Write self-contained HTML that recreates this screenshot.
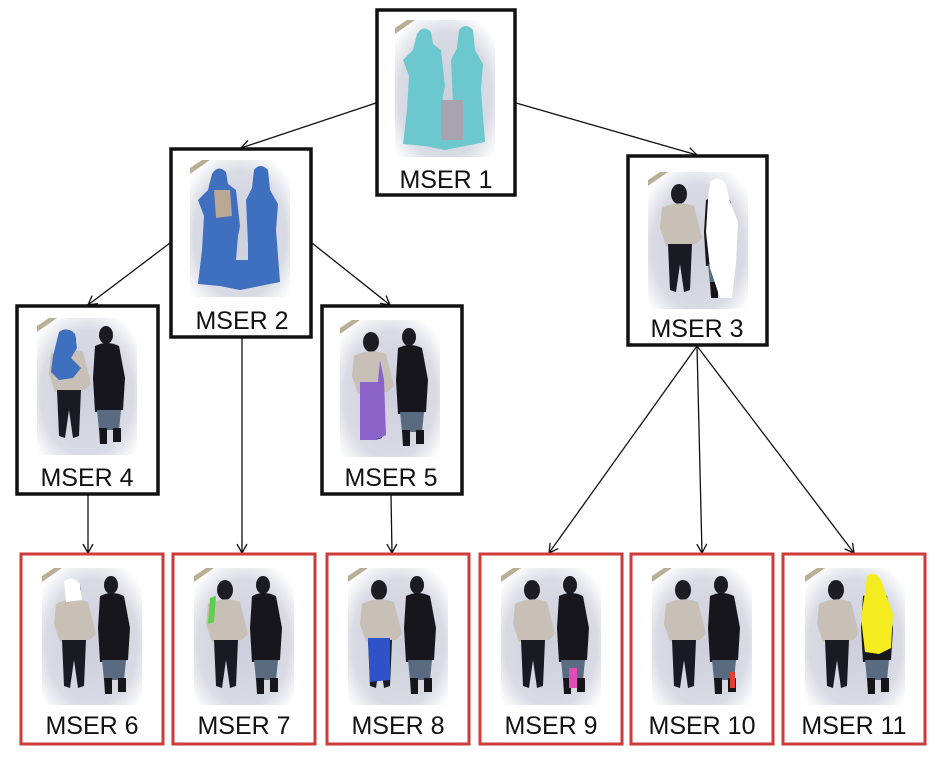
<!DOCTYPE html>
<html><head><meta charset="utf-8"><style>
html,body{margin:0;padding:0;background:#fff;}
svg{display:block;}
text{font-family:"Liberation Sans",sans-serif;font-size:25px;fill:#111;text-anchor:middle;}
</style></head><body>
<svg width="942" height="758" viewBox="0 0 942 758" xmlns="http://www.w3.org/2000/svg">
<defs>
<radialGradient id="bgG" cx="50%" cy="55%" r="65%">
<stop offset="0" stop-color="#cdd0dc"/><stop offset="0.7" stop-color="#d8dae4"/><stop offset="1" stop-color="#ffffff"/>
</radialGradient>
<marker id="ar" markerWidth="12" markerHeight="12" refX="10" refY="6" orient="auto" markerUnits="userSpaceOnUse">
<path d="M1,1 L10,6 L1,11" fill="none" stroke="#111" stroke-width="1.3"/>
</marker>
<g id="bg">
<rect x="0" y="0" width="100" height="137" fill="url(#bgG)"/>
<path d="M0,8 L12,0 L20,0 L0,14Z" fill="#8a7a50" opacity="0.6"/>
</g>
<g id="people">
<ellipse cx="31" cy="22" rx="8" ry="10" fill="#1c1c22"/>
<path d="M14,36 Q30,28 46,34 L54,66 L48,72 L18,74 L12,56Z" fill="#c8c0b6"/>
<path d="M20,72 L44,72 L42,118 L36,120 L32,92 L28,120 L22,118Z" fill="#1a1a22"/>
<ellipse cx="69" cy="17" rx="7" ry="9" fill="#1a1a20"/>
<path d="M58,28 Q70,22 82,28 L88,60 L86,92 L58,94 L56,60Z" fill="#16161c"/>
<path d="M60,92 L84,92 L82,112 L62,112Z" fill="#5a6a80"/>
<path d="M62,110 L70,110 L70,126 L63,126Z M76,110 L84,110 L84,124 L76,124Z" fill="#15151a"/>
</g>
<g id="sil">
<path d="M22,14 Q28,4 36,12 L38,24 L46,30 L50,66 L48,76 L46,100 L58,100 L58,84 L56,40 L62,28 L64,10 Q70,2 78,10 L80,30 L88,44 L86,70 L90,122 L70,126 L50,130 L30,126 L8,124 L12,90 L14,56 L8,40 L18,30Z"/>
</g>
</defs>

<g stroke="#111" stroke-width="1.3" fill="none">
<line x1="376" y1="103" x2="241" y2="148" marker-end="url(#ar)"/>
<line x1="516" y1="103" x2="697" y2="155" marker-end="url(#ar)"/>
<line x1="170" y1="243" x2="88" y2="305" marker-end="url(#ar)"/>
<line x1="312" y1="243" x2="390" y2="305" marker-end="url(#ar)"/>
<line x1="242" y1="338" x2="242" y2="553" marker-end="url(#ar)"/>
<line x1="88" y1="495" x2="88" y2="553" marker-end="url(#ar)"/>
<line x1="391" y1="495" x2="392" y2="553" marker-end="url(#ar)"/>
<line x1="697" y1="346" x2="549" y2="553" marker-end="url(#ar)"/>
<line x1="697" y1="346" x2="702" y2="553" marker-end="url(#ar)"/>
<line x1="697" y1="346" x2="854" y2="553" marker-end="url(#ar)"/>
</g>

<rect x="377" y="10" width="138" height="185" fill="#fff" stroke="#111" stroke-width="3.5"/>
<g transform="translate(395,20)"><use href="#bg"/><use href="#sil" fill="#6cc8cc"/><rect x="46" y="80" width="22" height="40" fill="#a8a4b0"/></g>
<text x="446" y="188">MSER 1</text>

<rect x="171" y="149" width="140" height="188" fill="#fff" stroke="#111" stroke-width="3.5"/>
<g transform="translate(190,160)"><use href="#bg"/><use href="#sil" fill="#3f6fbf"/><path d="M24,30 L40,30 L42,56 L26,58Z" fill="#b8a894"/></g>
<text x="242" y="329">MSER 2</text>

<rect x="628" y="156" width="139" height="189" fill="#fff" stroke="#111" stroke-width="3.5"/>
<g transform="translate(648,172)"><use href="#bg"/><use href="#people"/>
<path d="M62,10 Q70,2 78,12 L82,30 L90,50 L88,92 L84,126 L72,126 L62,96 L58,60 L60,28Z" fill="#fff"/></g>
<text x="697" y="337">MSER 3</text>

<rect x="17" y="306" width="141" height="188" fill="#fff" stroke="#111" stroke-width="3.5"/>
<g transform="translate(37,318)"><use href="#bg"/><use href="#people"/>
<path d="M22,14 Q30,8 38,16 L40,30 L34,40 L44,50 L36,60 L22,62 L14,54 L16,38Z" fill="#3f6fbf"/></g>
<text x="87" y="486">MSER 4</text>

<rect x="322" y="306" width="140" height="188" fill="#fff" stroke="#111" stroke-width="3.5"/>
<g transform="translate(340,320)"><use href="#bg"/><use href="#people"/>
<path d="M20,62 L38,62 L40,40 L44,60 L46,115 L36,120 L20,120Z" fill="#8a62c8"/></g>
<text x="391" y="486">MSER 5</text>

<g fill="#fff" stroke="#cf3a3a" stroke-width="3">
<rect x="21" y="554" width="142" height="190"/>
<rect x="173" y="554" width="142" height="190"/>
<rect x="327" y="554" width="142" height="190"/>
<rect x="480" y="554" width="142" height="190"/>
<rect x="631" y="554" width="142" height="190"/>
<rect x="783" y="554" width="142" height="190"/>
</g>
<g transform="translate(42,568)"><use href="#bg"/><use href="#people"/><path d="M22,14 Q30,6 38,16 L40,32 L24,34Z" fill="#fff"/></g>
<g transform="translate(194,568)"><use href="#bg"/><use href="#people"/><path d="M16,30 L22,28 L20,54 L14,56Z" fill="#5cd04a"/></g>
<g transform="translate(348,568)"><use href="#bg"/><use href="#people"/><path d="M20,70 L42,70 L42,112 L22,114Z" fill="#2e52c8"/></g>
<g transform="translate(501,568)"><use href="#bg"/><use href="#people"/><path d="M68,100 L76,100 L76,120 L68,120Z" fill="#e04cb8"/></g>
<g transform="translate(652,568)"><use href="#bg"/><use href="#people"/><path d="M78,104 L83,104 L83,120 L78,120Z" fill="#e0402c"/></g>
<g transform="translate(805,568)"><use href="#bg"/><use href="#people"/><path d="M62,8 Q70,2 76,12 L80,24 L88,46 L86,80 L74,86 L60,84 L56,50 L60,24Z" fill="#f4ec1e"/></g>
<text x="92" y="734">MSER 6</text>
<text x="244" y="734">MSER 7</text>
<text x="398" y="734">MSER 8</text>
<text x="551" y="734">MSER 9</text>
<text x="702" y="734">MSER 10</text>
<text x="854" y="734">MSER 11</text>
</svg>
</body></html>
